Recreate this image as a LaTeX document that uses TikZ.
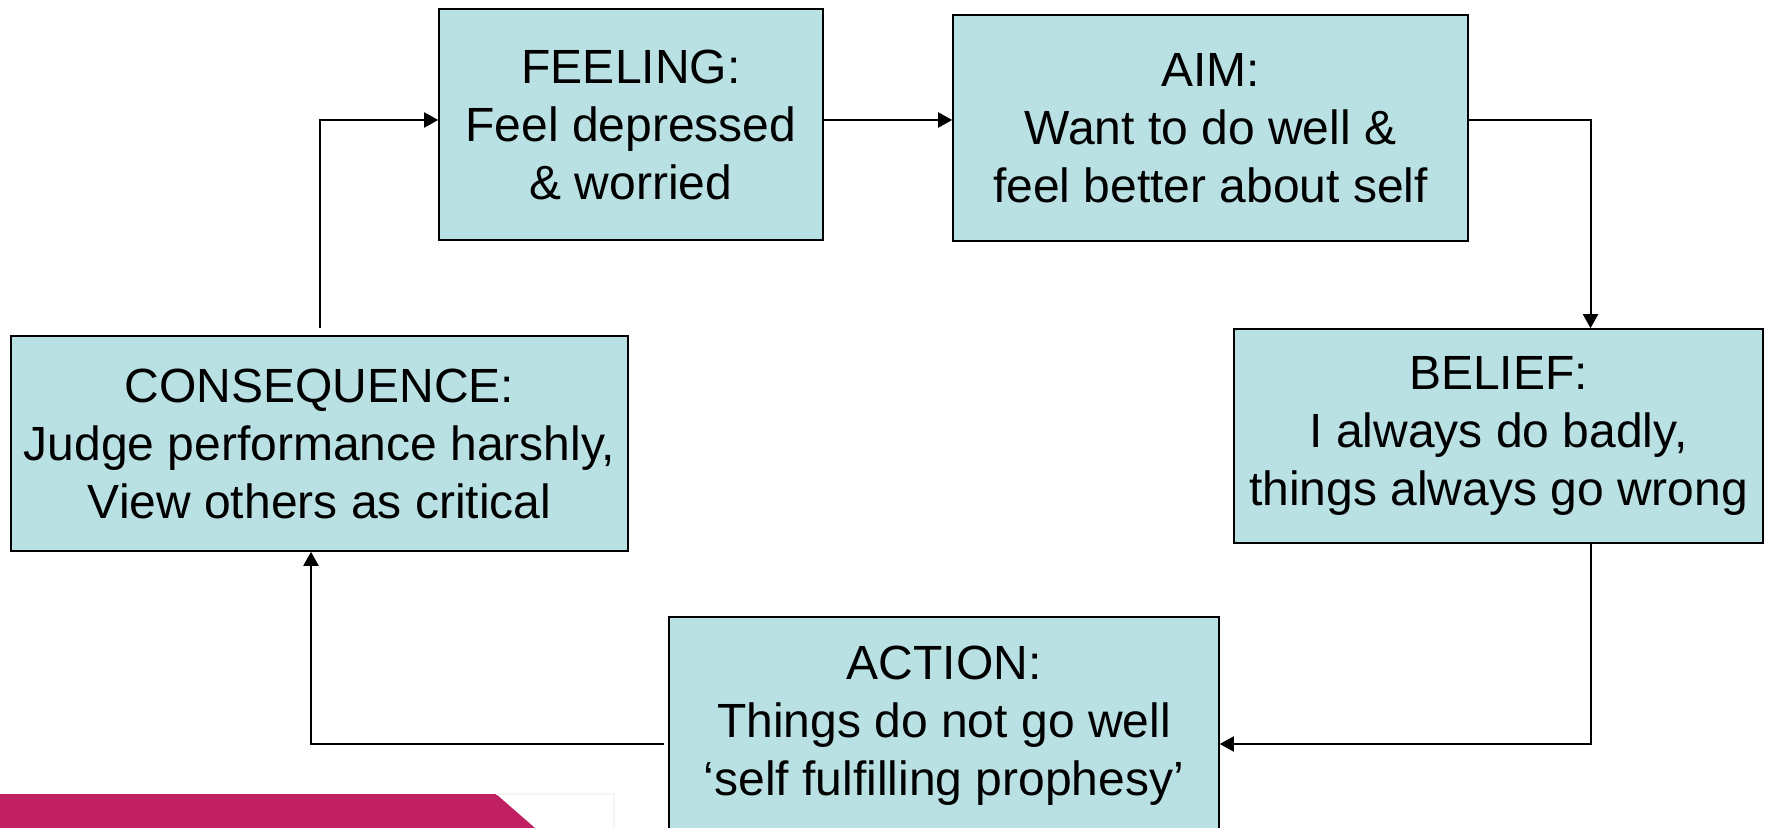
\documentclass[tikz,border=0pt]{standalone}
\usepackage{fontspec}
\setmainfont{Liberation Sans}
\usepackage{tikz}
\usetikzlibrary{positioning,arrows.meta,calc}
\definecolor{cbtBox}{RGB}{185,224,227}
\definecolor{cbtPink}{RGB}{192,32,98}
\tikzset{
    base/.style={font=\fontsize{24}{29}\selectfont, align=center},
    stage/.style={base, rectangle, draw=black, line width=0.8pt, fill=cbtBox,
                  inner sep=0pt},
    flow/.style={-{Triangle[length=7pt,width=7.5pt]}, line width=1pt, color=black}
}
\begin{document}
\begin{tikzpicture}[x=0.5pt,y=-0.5pt]
  \useasboundingbox (0,0) rectangle (1766,828);

  % footer band
  \fill[cbtPink] (0,794) -- (496,794) -- (535,828) -- (0,828) -- cycle;
  \draw[black!4, line width=0.6pt] (496,794) -- (614,794) -- (614,828);

  \node[stage, minimum width=192pt, minimum height=115.5pt] (feel) at (631,124.5)
    {FEELING:\\Feel depressed\\\& worried};
  \node[stage, minimum width=257.5pt, minimum height=113pt] (aim) at (1210.5,128)
    {AIM:\\Want to do well \&\\feel better about self};
  \node[stage, minimum width=264.5pt, minimum height=107pt] (belief) at (1498.5,436)
    {BELIEF:\\I always do badly,\\things always go wrong};
  \node[stage, minimum width=275pt, minimum height=109pt] (action) at (944,726)
    {ACTION:\\Things do not go well\\`self fulfilling prophesy'};
  \node[stage, minimum width=308.5pt, minimum height=107.5pt] (cons) at (319.5,443.5)
    {CONSEQUENCE:\\Judge performance harshly,\\View others as critical};

  \draw[flow] ([yshift=3.5pt]cons.north) |- ([yshift=2.25pt]feel.west);
  \draw[flow] ([yshift=2.25pt]feel.east) -- ([yshift=2.25pt]feel.east -| aim.west);
  \draw[flow] ([yshift=4pt]aim.east) -| ([xshift=46pt]belief.north);
  \draw[flow] ([xshift=46pt]belief.south) |- ([yshift=-9pt]action.east);
  \draw[flow] ([xshift=-2pt,yshift=-9pt]action.west) -| ([xshift=-4.25pt]cons.south);
\end{tikzpicture}
\end{document}
